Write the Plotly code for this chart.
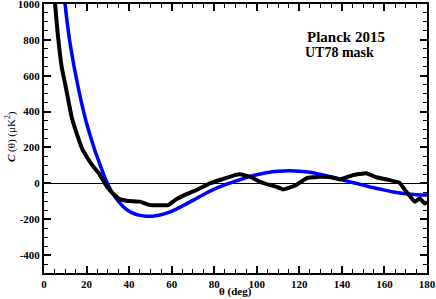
import plotly.graph_objects as go

# Theoretical (blue) curve
theta_model = [8, 10, 12, 14, 16, 18, 20, 22, 24, 26, 28, 30, 32, 35, 38, 41, 44, 48, 51, 54, 58,
               62, 66, 70, 75, 80, 85, 90, 95, 100, 105, 110, 115, 120, 125, 130, 135, 140, 145,
               150, 155, 160, 165, 170, 175, 180]
c_model = [1250, 990, 800, 660, 540, 430, 335, 255, 180, 115, 50, -5, -50, -100, -138, -162, -176,
           -183, -183, -178, -165, -145, -120, -95, -62, -32, -8, 12, 32, 48, 60, 67, 70, 68, 62,
           50, 36, 20, 5, -10, -25, -38, -50, -58, -63, -65]

# Planck 2015 measured (black) curve
theta_data = [4, 5.2, 6.4, 8.3, 10, 11.4, 13, 15.3, 18.2, 20.5, 23.2, 25.8, 28.6, 31, 34.9, 38.8,
              45, 47, 49.7, 58.4, 62.3, 67, 71.7, 77.9, 84, 89.7, 92, 96.8, 101.4, 106, 109, 112.3,
              115, 118.6, 123.3, 129.5, 135, 139, 145.2, 151.5, 156.2, 162.4, 167, 170.3, 174.2,
              176.6, 178.9, 180]
c_data = [1150, 1000, 840, 650, 550, 465, 370, 280, 186, 140, 93, 56, 0, -40, -84, -97,
          -102, -110, -121, -121, -88, -60, -37, 0, 24, 46, 50, 37, 9, -9, -18, -34,
          -25, -9, 28, 37, 34, 22, 46, 56, 34, 18, 4, -47, -103,
          -84, -112, -105]

x_ticks = [0, 20, 40, 60, 80, 100, 120, 140, 160, 180]
y_ticks = [-400, -200, 0, 200, 400, 600, 800, 1000]

font_family = "Liberation Serif, Times New Roman, serif"
bold_font = dict(family=font_family, size=11, color="black", weight="bold")
plain_font = dict(family=font_family, size=11, color="black")

fig = go.Figure()
fig.add_trace(go.Scatter(x=theta_model, y=c_model, mode="lines",
                         line=dict(color="#0000ff", width=3.5, shape="spline", smoothing=0.6),
                         showlegend=False))
fig.add_trace(go.Scatter(x=theta_data, y=c_data, mode="lines",
                         line=dict(color="black", width=4, shape="spline", smoothing=0.3),
                         showlegend=False))

axis_common = dict(
    showline=True, linecolor="black", linewidth=2, mirror="ticks",
    ticks="inside", ticklen=7, tickwidth=1.5, tickcolor="black",
    showgrid=False, automargin=False, ticklabeloverflow="allow",
    tickfont=bold_font,
)

fig.update_xaxes(
    range=[0, 180], tickvals=x_ticks, ticktext=[str(v) for v in x_ticks],
    minor=dict(dtick=5, tick0=0, ticklen=4, tickwidth=1.2, tickcolor="black", ticks="inside"),
    zeroline=False,
    **axis_common,
)
fig.update_yaxes(
    range=[-500, 1000], tickvals=y_ticks, ticktext=[str(v) for v in y_ticks],
    minor=dict(dtick=50, tick0=0, ticklen=4, tickwidth=1.2, tickcolor="black", ticks="inside"),
    zeroline=True, zerolinecolor="black", zerolinewidth=1.2,
    **axis_common,
)

# axis titles
fig.add_annotation(xref="paper", yref="paper", x=0.5, y=-0.0695, text="<b>θ (deg)</b>",
                   showarrow=False, font=plain_font, yanchor="middle")
fig.add_annotation(xref="paper", yref="paper", x=-0.0888, y=0.509,
                   text="<b><i>C</i></b> (θ) (μK<sup>2</sup>)", textangle=-90,
                   showarrow=False, font=plain_font, xanchor="center", yanchor="middle")

fig.add_annotation(x=141.8, y=816, text="Planck 2015", showarrow=False,
                   font=dict(family=font_family, size=15, color="black", weight="bold"))
fig.add_annotation(x=139, y=728, text="UT78 mask", showarrow=False,
                   font=dict(family=font_family, size=14, color="black", weight="bold"))

fig.update_layout(
    width=436, height=299,
    margin=dict(l=44, r=9, t=4, b=26),
    plot_bgcolor="white", paper_bgcolor="white",
)

fig.write_html("out.html",
               config={"displayModeBar": False},
               post_script="document.body.style.margin='0';document.body.style.padding='0';"
                           "document.body.style.overflow='hidden';")
